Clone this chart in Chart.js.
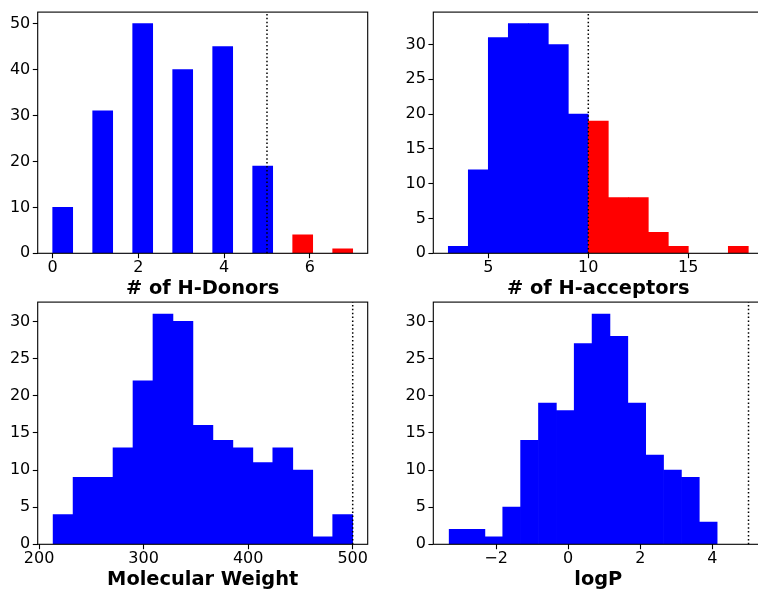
<!DOCTYPE html>
<html>
<head>
<meta charset="utf-8">
<script src="https://cdn.jsdelivr.net/npm/chart.js@4.4.0/dist/chart.umd.min.js"></script>
<style>
  html, body { margin: 0; padding: 0; background: #fff; overflow: hidden; width: 758px; height: 590px; }
  canvas { position: absolute; }
</style>
</head>
<body>
<canvas id="donors" width="390" height="301" style="left:0;top:0"></canvas>
<canvas id="acceptors" width="390" height="301" style="left:380px;top:0"></canvas>
<canvas id="weight" width="390" height="302" style="left:0;top:290px"></canvas>
<canvas id="logp" width="390" height="302" style="left:380px;top:290px"></canvas>
<script>
// Rule-of-five descriptor histograms: 15 bins each, bins past the limit in red.

// H-bond donors
const donorCounts = [10, 0, 31, 0, 50, 0, 40, 0, 45, 0, 19, 0, 4, 0, 1];
const donorRange = [0, 7];
const donorLimit = 5;
const donorXTicks = [0, 2, 4, 6];
const donorYTicks = [0, 10, 20, 30, 40, 50];

// H-bond acceptors
const acceptorCounts = [1, 12, 31, 33, 33, 30, 20, 19, 8, 8, 3, 1, 0, 0, 1];
const acceptorRange = [3, 18];
const acceptorLimit = 10;
const acceptorXTicks = [5, 10, 15];
const acceptorYTicks = [0, 5, 10, 15, 20, 25, 30];

// Molecular weight
const weightCounts = [4, 9, 9, 13, 22, 31, 30, 16, 14, 13, 11, 13, 10, 1, 4];
const weightRange = [213.4, 500];
const weightLimit = 500;
const weightXTicks = [200, 300, 400, 500];
const weightYTicks = [0, 5, 10, 15, 20, 25, 30];

// logP
const logpCounts = [2, 2, 1, 5, 14, 19, 18, 27, 31, 28, 19, 12, 10, 9, 3];
const logpRange = [-3.30, 4.13];
const logpLimit = 5;
const logpXTicks = [-2, 0, 2, 4];
const logpYTicks = [0, 5, 10, 15, 20, 25, 30];

const BLUE = '#0000ff';
const RED = '#ff0000';
const TICK_FONT = { size: 16 };
const TITLE_FONT = { size: 19.4, weight: 'bold', lineHeight: 1.2 };

Chart.defaults.font.family = "'DejaVu Sans', sans-serif";
Chart.defaults.color = '#000';

// matplotlib-style minus sign on negative tick labels
const fmt = v => (v < 0 ? '\u2212' + Math.abs(v) : String(v));

// Axes frame on all four sides plus the dotted limit line
const frame = {
  id: 'frame',
  afterDatasetsDraw(chart, args, opts) {
    const { ctx, chartArea: a, scales: { x } } = chart;
    ctx.save();
    const px = x.getPixelForValue(opts.limit);
    ctx.strokeStyle = '#000';
    ctx.lineWidth = 1.5;
    ctx.setLineDash([1.5, 2.4]);
    ctx.beginPath();
    ctx.moveTo(px, a.bottom);
    ctx.lineTo(px, a.top);
    ctx.stroke();
    ctx.setLineDash([]);
    ctx.lineWidth = 1.1;
    ctx.strokeRect(a.left, a.top, a.right - a.left, a.bottom - a.top);
    ctx.restore();
  }
};

function histogram(id, o) {
  const n = o.counts.length;
  const w = (o.range[1] - o.range[0]) / n;
  const points = o.counts.map((c, i) => ({ x: o.range[0] + (i + 0.5) * w, y: c }));
  const colors = points.map(p => (p.x > o.limit ? RED : BLUE));
  const tickGrid = {
    display: true, drawOnChartArea: false, drawTicks: true,
    tickLength: 4.9, tickWidth: 1.1, tickColor: '#000', offset: false
  };
  return new Chart(document.getElementById(id), {
    type: 'bar',
    data: {
      datasets: [{
        data: points,
        backgroundColor: colors,
        borderWidth: 0,
        barPercentage: 1,
        categoryPercentage: 1
      }]
    },
    options: {
      responsive: false,
      animation: false,
      layout: { padding: o.pad },
      plugins: {
        legend: { display: false },
        tooltip: { enabled: false },
        frame: { limit: o.limit }
      },
      scales: {
        x: {
          type: 'linear',
          min: o.xMin, max: o.xMax,
          offset: false,
          grid: tickGrid,
          border: { display: false },
          ticks: {
            autoSkip: false, maxRotation: 0, includeBounds: false,
            padding: 0, font: TICK_FONT, color: '#000', callback: fmt
          },
          title: {
            display: true, text: o.title, color: '#000', padding: 0,
            font: TITLE_FONT
          },
          afterBuildTicks: s => { s.ticks = o.xTicks.map(v => ({ value: v })); },
          afterFit: s => { s.height = o.xAxisH; }
        },
        y: {
          type: 'linear',
          min: 0, max: o.yMax,
          grid: tickGrid,
          border: { display: false },
          ticks: {
            autoSkip: false, includeBounds: false,
            padding: 2.5, font: TICK_FONT, color: '#000', callback: fmt
          },
          afterBuildTicks: s => { s.ticks = o.yTicks.map(v => ({ value: v })); },
          afterFit: s => { s.width = o.yAxisW; }
        }
      }
    },
    plugins: [frame]
  });
}

histogram('donors', {
  counts: donorCounts, range: donorRange, limit: donorLimit,
  xTicks: donorXTicks, yTicks: donorYTicks,
  xMin: -0.35, xMax: 7.35, yMax: 52.5,
  title: '# of H-Donors',
  pad: { left: 0, right: 22.3, top: 11, bottom: 0 }, yAxisW: 37.7, xAxisH: 47.7
});

histogram('acceptors', {
  counts: acceptorCounts, range: acceptorRange, limit: acceptorLimit,
  xTicks: acceptorXTicks, yTicks: acceptorYTicks,
  xMin: 2.25, xMax: 18.75, yMax: 34.65,
  title: '# of H-acceptors',
  pad: { left: 0, right: 6.7, top: 11, bottom: 0 }, yAxisW: 53.3, xAxisH: 47.7
});

histogram('weight', {
  counts: weightCounts, range: weightRange, limit: weightLimit,
  xTicks: weightXTicks, yTicks: weightYTicks,
  xMin: 198.65, xMax: 514.35, yMax: 32.6,
  title: 'Molecular Weight',
  pad: { left: 0, right: 22.3, top: 11.7, bottom: 0 }, yAxisW: 37.7, xAxisH: 47.7
});

histogram('logp', {
  counts: logpCounts, range: logpRange, limit: logpLimit,
  xTicks: logpXTicks, yTicks: logpYTicks,
  xMin: -3.74, xMax: 5.41, yMax: 32.6,
  title: 'logP',
  pad: { left: 0, right: 6.7, top: 11.7, bottom: 0 }, yAxisW: 53.3, xAxisH: 47.7
});
</script>
</body>
</html>
